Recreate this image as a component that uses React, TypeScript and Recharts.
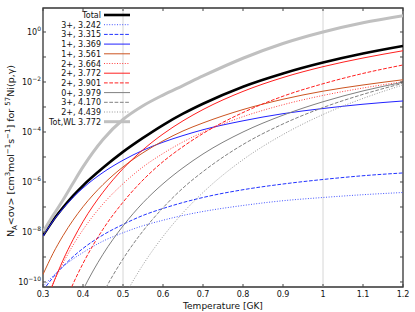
import React from "react";
import { LineChart, Line, XAxis, YAxis, ReferenceLine, ReferenceArea } from "recharts";

// temperature grid [GK]
const temperature = [0.3, 0.325, 0.35, 0.375, 0.4, 0.45, 0.5, 0.55, 0.6, 0.65, 0.7, 0.8, 0.9, 1.0, 1.1, 1.2];

// N_A<sv>, one array per curve
const total = [7.2e-9, 2.9e-8, 9.5e-8, 2.8e-7, 7.2e-7, 3.7e-6, 1.6e-5, 5.8e-5, 1.9e-4, 5.4e-4, 1.35e-3, 6.5e-3, 2.2e-2, 6.0e-2, 0.138, 0.275];
const res3242 = [6.6e-11, 1.74e-10, 4.1e-10, 8.3e-10, 1.51e-9, 4.3e-9, 9.3e-9, 1.78e-8, 2.95e-8, 4.6e-8, 6.6e-8, 1.15e-7, 1.78e-7, 2.4e-7, 3.1e-7, 3.8e-7];
const res3315 = [4.6e-11, 1.51e-10, 4.2e-10, 1.02e-9, 2.2e-9, 7.6e-9, 2.0e-8, 4.6e-8, 8.7e-8, 1.51e-7, 2.4e-7, 4.9e-7, 8.3e-7, 1.26e-6, 1.78e-6, 2.3e-6];
const res3369 = [6.9e-9, 2.75e-8, 8.7e-8, 2.4e-7, 5.75e-7, 2.4e-6, 7.4e-6, 1.86e-5, 3.9e-5, 7.2e-5, 1.23e-4, 2.8e-4, 5.4e-4, 8.7e-4, 1.29e-3, 1.74e-3];
const res3561 = [2.0e-10, 1.38e-9, 7.1e-9, 2.95e-8, 1.02e-7, 7.9e-7, 4.0e-6, 1.48e-5, 4.4e-5, 1.1e-4, 2.3e-4, 7.9e-4, 2.04e-3, 4.3e-3, 7.6e-3, 1.23e-2];
const res3664 = [9.1e-12, 8.5e-11, 5.6e-10, 2.95e-9, 1.23e-8, 1.32e-7, 8.5e-7, 4.0e-6, 1.38e-5, 4.0e-5, 9.8e-5, 4.1e-4, 1.23e-3, 2.9e-3, 5.75e-3, 1.02e-2];
const res3772 = [6.5e-12, 8.3e-11, 7.4e-10, 4.9e-9, 2.6e-8, 3.9e-7, 3.4e-6, 1.95e-5, 8.3e-5, 2.8e-4, 7.9e-4, 4.2e-3, 1.51e-2, 4.1e-2, 9.1e-2, 0.178];
const res3901 = [4.1e-14, 7.6e-13, 9.5e-12, 8.3e-11, 5.5e-10, 1.29e-8, 1.55e-7, 1.2e-6, 6.5e-6, 2.6e-5, 8.7e-5, 6.0e-4, 2.7e-3, 8.5e-3, 2.2e-2, 4.8e-2];
const res3979 = [2.3e-15, 4.9e-14, 6.9e-13, 6.6e-12, 4.8e-11, 1.29e-9, 1.74e-8, 1.48e-7, 8.5e-7, 3.7e-6, 1.32e-5, 1.0e-4, 4.7e-4, 1.62e-3, 4.4e-3, 9.8e-3];
const res4170 = [3.7e-18, 1.55e-16, 3.7e-15, 5.75e-14, 6.5e-13, 3.5e-11, 8.3e-10, 1.1e-8, 9.3e-8, 5.75e-7, 2.6e-6, 3.16e-5, 2.1e-4, 9.5e-4, 3.2e-3, 8.9e-3];
const res4439 = [1.74e-21, 1.58e-19, 7.4e-18, 2.0e-16, 3.7e-15, 4.6e-13, 2.1e-11, 4.9e-10, 6.6e-9, 5.9e-8, 3.8e-7, 7.8e-6, 7.9e-5, 5.0e-4, 2.2e-3, 7.6e-3];
const totalWL = [1.0e-8, 4.5e-8, 1.9e-7, 8.9e-7, 4.0e-6, 5.0e-5, 3.16e-4, 1.12e-3, 3.0e-3, 7.2e-3, 1.74e-2, 8.9e-2, 0.347, 1.0, 2.34, 4.47];

const xTicks = [0.3, 0.4, 0.5, 0.6, 0.7, 0.8, 0.9, 1.0, 1.1, 1.2];
const yTicks = [1e-10, 1e-9, 1e-8, 1e-7, 1e-6, 1e-5, 1e-4, 1e-3, 1e-2, 1e-1, 1];
const markerLines = [0.5, 1.0];

const Y_MIN = 6.3e-11;
const Y_MAX = 9.12;
const PLOT_W = 360;
const PLOT_H = 279;
const FONT = "'DejaVu Sans', sans-serif";

const series = [
  { key: "total", name: "Total", values: total, color: "#000000", width: 2.6, dash: undefined },
  { key: "r3242", name: "3+, 3.242", values: res3242, color: "#4455ff", width: 1, dash: "1 1.6" },
  { key: "r3315", name: "3+, 3.315", values: res3315, color: "#2233ff", width: 1, dash: "3.7 1.6" },
  { key: "r3369", name: "1+, 3.369", values: res3369, color: "#2222ff", width: 1, dash: undefined },
  { key: "r3561", name: "1+, 3.561", values: res3561, color: "#cc5522", width: 1, dash: undefined },
  { key: "r3664", name: "2+, 3.664", values: res3664, color: "#ff4040", width: 1, dash: "1 1.6" },
  { key: "r3772", name: "2+, 3.772", values: res3772, color: "#ff2020", width: 1, dash: undefined },
  { key: "r3901", name: "2+, 3.901", values: res3901, color: "#ff2020", width: 1, dash: "3.7 1.6" },
  { key: "r3979", name: "0+, 3.979", values: res3979, color: "#808080", width: 1, dash: undefined },
  { key: "r4170", name: "3+, 4.170", values: res4170, color: "#808080", width: 1, dash: "3.7 1.6" },
  { key: "r4439", name: "2+, 4.439", values: res4439, color: "#999999", width: 1, dash: "1 1.6" },
  { key: "totWL", name: "Tot,WL 3.772", values: totalWL, color: "#c0c0c0", width: 3, dash: undefined },
];

const data = temperature.map((t, i) => {
  const row: Record<string, number> = { t };
  series.forEach((s) => {
    row[s.key] = s.values[i];
  });
  return row;
});

function XTick(props: any) {
  const { x, y, payload } = props;
  return (
    <g>
      <line x1={x} x2={x} y1={y} y2={y - 3} stroke="#444" />
      <line x1={x} x2={x} y1={y - PLOT_H} y2={y - PLOT_H + 3} stroke="#444" />
      <text x={x} y={y + 10} textAnchor="middle" fontSize={8} fontFamily={FONT} fill="#111">
        {String(payload.value)}
      </text>
    </g>
  );
}

function YTick(props: any) {
  const { x, y, payload } = props;
  const exp = Math.round(Math.log10(payload.value));
  const label = exp < 0 ? "\u2212" + Math.abs(exp) : String(exp);
  return (
    <g>
      <line x1={x} x2={x + 3} y1={y} y2={y} stroke="#444" />
      <line x1={x + PLOT_W} x2={x + PLOT_W - 3} y1={y} y2={y} stroke="#444" />
      {exp % 2 === 0 && (
        <text x={x - 2} y={y + 3} textAnchor="end" fontSize={8} fontFamily={FONT} fill="#111">
          10
          <tspan dy={-4} fontSize={6}>
            {label}
          </tspan>
        </text>
      )}
    </g>
  );
}

function XLabel() {
  return (
    <text x={223} y={309} textAnchor="middle" fontSize={9} fontFamily={FONT} fill="#111">
      Temperature [GK]
    </text>
  );
}

function YLabel() {
  return (
    <text transform="translate(14,151) rotate(-90)" textAnchor="middle" fontSize={9.5} fontFamily={FONT} fill="#111">
      N
      <tspan dy={2.5} fontSize={7}>A</tspan>
      <tspan dy={-2.5}>{"<σv> [cm"}</tspan>
      <tspan dy={-4} fontSize={7}>3</tspan>
      <tspan dy={4}>mol</tspan>
      <tspan dy={-4} fontSize={7}>{"\u22121"}</tspan>
      <tspan dy={4}>s</tspan>
      <tspan dy={-4} fontSize={7}>{"\u22121"}</tspan>
      <tspan dy={4}>{"] for "}</tspan>
      <tspan dy={-4} fontSize={7}>57</tspan>
      <tspan dy={4}>{"Ni(p,γ)"}</tspan>
    </text>
  );
}

function ChartLegend() {
  return (
    <svg width={415} height={312} style={{ position: "absolute", left: 0, top: 0, pointerEvents: "none" }}>
      {series.map((s, i) => {
        const y = 15 + i * 9.7;
        return (
          <g key={s.key}>
            <text x={101} y={y + 3} textAnchor="end" fontSize={8} fontFamily={FONT} fill="#111">
              {s.name}
            </text>
            <line x1={104} x2={130} y1={y} y2={y} stroke={s.color} strokeWidth={s.width} strokeDasharray={s.dash} />
          </g>
        );
      })}
    </svg>
  );
}

export default function App() {
  return (
    <div style={{ position: "absolute", left: 0, top: 0, width: 415, height: 312, background: "#fff" }}>
      <LineChart width={415} height={312} data={data} margin={{ top: 8, right: 12, bottom: 0, left: 0 }}>
        <XAxis
          dataKey="t"
          type="number"
          domain={[0.3, 1.2]}
          allowDataOverflow
          ticks={xTicks}
          interval={0}
          height={25}
          tickSize={0}
          tickMargin={0}
          axisLine={false}
          tickLine={false}
          tick={(p: any) => <XTick {...p} />}
          label={() => <XLabel />}
        />
        <YAxis
          type="number"
          scale="log"
          domain={[Y_MIN, Y_MAX]}
          allowDataOverflow
          ticks={yTicks}
          interval={0}
          width={43}
          tickSize={0}
          tickMargin={0}
          axisLine={false}
          tickLine={false}
          tick={(p: any) => <YTick {...p} />}
          label={() => <YLabel />}
        />
        {markerLines.map((x) => (
          <ReferenceLine key={x} x={x} stroke="#d6d6d6" strokeWidth={1} />
        ))}
        {series.map((s) => (
          <Line
            key={s.key}
            dataKey={s.key}
            name={s.name}
            type="monotone"
            stroke={s.color}
            strokeWidth={s.width}
            strokeDasharray={s.dash}
            dot={false}
            activeDot={false}
            isAnimationActive={false}
          />
        ))}
        <ReferenceArea x1={0.3} x2={1.2} y1={Y_MIN} y2={Y_MAX} fill="none" stroke="#333" strokeWidth={1.3} ifOverflow="visible" />
      </LineChart>
      <ChartLegend />
    </div>
  );
}
